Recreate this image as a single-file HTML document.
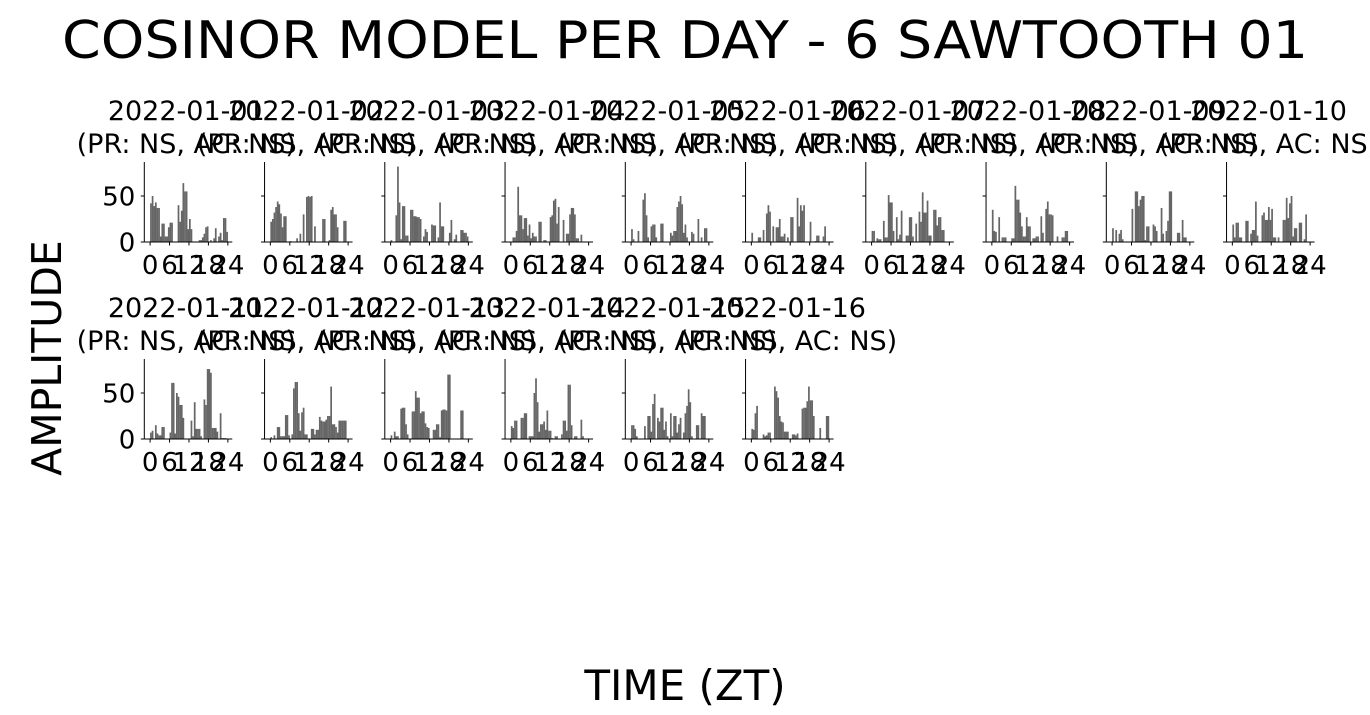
<!DOCTYPE html>
<html><head><meta charset="utf-8"><style>
html,body{margin:0;padding:0;background:#fff;}
svg{display:block;font-family:"DejaVu Sans","Liberation Sans",sans-serif;}
</style></head><body>
<svg id="chart" width="1370" height="715" viewBox="0 0 1370 715" xmlns="http://www.w3.org/2000/svg">
<text x="685" y="58" font-size="52" text-anchor="middle" textLength="1246" lengthAdjust="spacingAndGlyphs">COSINOR MODEL PER DAY - 6 SAWTOOTH 01</text>
<text transform="translate(61,358) rotate(-90)" font-size="41" text-anchor="middle">AMPLITUDE</text>
<text x="685" y="700" font-size="42" text-anchor="middle">TIME (ZT)</text>
<g id="panels"></g>
</svg>
<script>
const days = ["2022-01-01","2022-01-02","2022-01-03","2022-01-04","2022-01-05","2022-01-06","2022-01-07","2022-01-08","2022-01-09","2022-01-10","2022-01-11","2022-01-12","2022-01-13","2022-01-14","2022-01-15","2022-01-16"];
const stats = ["(PR: NS, AC: NS)"];
const xTicks = [0,6,12,18,24];
const yTicks = [0,50];
const binHours = 0.5;
const d01=[42,50,39,43,37,37,6,20,20,6,6,16,21,21,0,0,0,40,22,34,64,55,55,14,25,14,0,0,0,0,2,2,5,9,16,17,0,2,0,4,15,0,6,10,2,26,26,11];
const d02=[22,25,32,38,44,41,31,16,28,28,0,0,1,0,0,0,4,0,9,0,30,0,49,50,49,50,0,17,0,0,0,0,25,25,0,0,2,35,38,30,30,16,0,0,0,23,23,0];
const d03=[2,0,0,29,82,43,3,39,39,7,7,0,35,35,28,28,27,27,25,0,6,14,11,0,0,19,18,18,0,5,43,17,17,0,0,0,10,24,0,3,8,0,0,13,13,10,10,6];
const d04=[0,5,5,12,60,29,29,14,26,26,7,19,4,10,6,6,0,22,22,0,2,2,0,0,27,29,45,47,20,38,0,0,24,0,9,9,30,37,37,30,4,4,0,8,0,0,0,0];
const d05=[14,3,0,0,12,0,0,46,53,29,5,0,17,19,19,5,0,0,20,20,0,0,0,0,10,7,12,12,38,44,50,41,10,19,5,0,0,11,9,0,0,25,0,5,0,15,15,0];
const d06=[10,0,0,0,5,5,0,13,0,31,40,33,0,17,0,16,16,25,6,6,9,0,5,0,27,27,0,0,48,17,40,34,40,0,0,0,22,0,0,1,7,7,0,0,6,17,0,0];
const d07=[12,12,0,4,3,3,0,23,5,5,51,43,43,12,0,27,3,8,34,0,0,7,7,27,27,6,0,20,0,33,22,54,32,32,45,7,7,0,35,35,18,27,27,13,13,0,0,0];
const d08=[35,12,11,0,27,0,5,5,5,0,0,0,4,4,61,46,46,32,17,6,6,27,17,17,0,4,4,6,6,0,28,10,0,36,44,30,30,29,0,0,6,0,0,5,5,12,12,0];
const d09=[15,0,13,0,9,13,3,0,0,0,0,0,36,0,55,55,39,46,50,50,2,17,17,0,0,19,17,12,0,0,37,9,0,12,23,55,55,0,0,0,10,10,0,24,5,5,0,0];
const d10=[19,5,21,21,5,5,0,0,23,23,0,9,13,13,44,7,0,0,29,32,24,24,38,24,36,5,5,0,5,0,0,24,24,48,26,42,50,6,15,15,0,21,21,0,3,30,0,0];
const d11=[7,9,0,15,6,4,4,13,13,0,0,0,7,61,61,6,50,46,37,37,23,0,0,0,0,20,3,40,11,11,11,3,0,43,37,76,76,72,12,12,12,8,0,28,1,1,1,0];
const d12=[2,0,4,0,13,13,3,3,3,26,26,4,0,5,55,62,62,28,9,29,34,5,5,0,0,11,11,5,10,10,24,20,19,19,21,25,25,57,16,16,13,7,20,20,20,20,20,0];
const d13=[4,0,8,3,3,0,33,34,34,16,5,0,0,30,30,52,45,45,28,30,30,17,13,12,0,0,10,10,16,16,2,31,32,32,31,70,70,0,0,0,0,0,0,31,31,0,0,0];
const d14=[14,12,20,20,0,0,23,23,28,28,0,3,3,3,50,66,40,8,16,16,19,10,31,9,9,1,0,3,3,0,0,5,20,20,9,59,59,15,0,3,3,0,0,21,3,0,0,0];
const d15=[15,15,11,3,0,0,0,0,14,0,25,25,8,38,49,0,23,19,34,34,10,19,3,0,28,3,25,25,7,16,23,0,7,28,36,54,40,3,0,0,15,15,0,28,25,25,0,0];
const d16=[11,10,28,36,0,0,0,5,3,4,7,7,0,0,57,52,45,25,19,18,8,8,8,0,0,5,5,4,6,0,0,33,34,34,41,57,42,42,25,0,0,0,12,0,0,0,25,25];
const series=[d01,d02,d03,d04,d05,d06,d07,d08,d09,d10,d11,d12,d13,d14,d15,d16];

const NS="http://www.w3.org/2000/svg";
const root=document.getElementById('panels');
function mk(tag,attrs,parent){const e=document.createElementNS(NS,tag);for(const k in attrs)e.setAttribute(k,attrs[k]);parent.appendChild(e);return e;}
const left0=144.3, colStep=120.25, pxPerH=3.24, yScale=0.92;
series.forEach((vals,p)=>{
  const row=Math.floor(p/10), col=p%10;
  const L=left0+col*colStep, base=row===0?242:439;
  const xs=h=>L+5.8+h*pxPerH;
  const ys=v=>base-v*yScale;
  const g=mk('g',{},root);
  
  
  const t1=mk('text',{x:L+42,y:row===0?120:317,'font-size':27,'text-anchor':'middle'},g);
  t1.textContent=days[p];
  
  
  const t2=mk('text',{x:L+42,y:row===0?153:350,'font-size':27,'text-anchor':'middle'},g);
  t2.textContent=stats[0];
  
  
  vals.forEach((v,i)=>{
    if(v<=0)return;
    const x0=xs(i*binHours), x1=xs((i+1)*binHours);
    const r=mk('rect',{x:x0,y:ys(v),width:(x1-x0)+0.1,height:v*yScale,fill:'#666666'},g);
    
    
  });
  const ya=mk('line',{x1:L,y1:base-80,x2:L,y2:base,stroke:'#000','stroke-width':1},g);
  
  
  const xa=mk('line',{x1:L,y1:base,x2:L+88,y2:base,stroke:'#000','stroke-width':1},g);
  
  
  yTicks.forEach(v=>{
    mk('line',{x1:L-3.5,y1:ys(v),x2:L,y2:ys(v),stroke:'#000','stroke-width':1},g);
    if(col===0){
      const tl=mk('text',{x:L-9,y:ys(v)+9.5,'font-size':26,'text-anchor':'end'},g);
      tl.textContent=v;
      
      
    }
  });
  xTicks.forEach(h=>{
    mk('line',{x1:xs(h),y1:base,x2:xs(h),y2:base+3.5,stroke:'#000','stroke-width':1},g);
    const tl=mk('text',{x:xs(h),y:base+32,'font-size':26,'text-anchor':'middle'},g);
    tl.textContent=h;
    
    
  });
});
</script>
</body></html>
